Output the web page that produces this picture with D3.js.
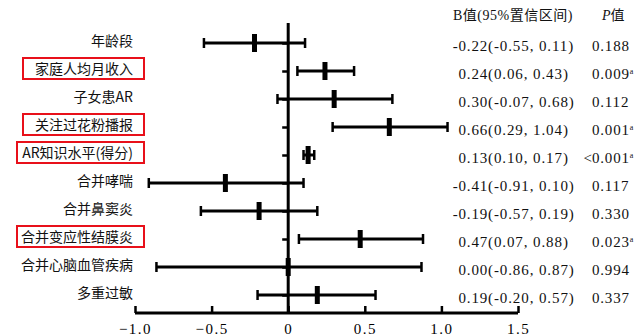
<!DOCTYPE html>
<html><head><meta charset="utf-8">
<script src="https://cdn.jsdelivr.net/npm/d3@7"></script>
<style>
html,body{margin:0;padding:0;background:#fff;}
svg{display:block;}
</style>
</head><body>
<svg id="chart" width="643" height="336"></svg>
<script>
const categories = ["年龄段","家庭人均月收入","子女患AR","关注过花粉播报","AR知识水平(得分)","合并哮喘","合并鼻窦炎","合并变应性结膜炎","合并心脑血管疾病","多重过敏"];
const bValues = [-0.22, 0.24, 0.30, 0.66, 0.13, -0.41, -0.19, 0.47, 0.00, 0.19];
const ciLow  = [-0.55, 0.06, -0.07, 0.29, 0.10, -0.91, -0.57, 0.07, -0.86, -0.20];
const ciHigh = [0.11, 0.43, 0.68, 1.04, 0.17, 0.10, 0.19, 0.88, 0.87, 0.57];
const pValues = ["0.188","0.009","0.112","0.001","0.001","0.117","0.330","0.023","0.994","0.337"];
const pPrefix = ["","","","","<","","","","",""];
const pSig = [false,true,false,true,true,false,false,true,false,false];
const highlighted = [false,true,false,true,true,false,false,true,false,false];
const xTicks = [-1.0,-0.5,0,0.5,1.0,1.5];
const xTickLabels = ["\u22121.0","\u22120.5","0","0.5","1.0","1.5"];
const headerB = "B值(95%置信区间)";
const headerP = "值";

const svg = d3.select("#chart");
const cjk = "'Noto Sans CJK SC', sans-serif";
const num = "'Liberation Serif', 'Noto Sans CJK SC', serif";
const fmt = v => (v < 0 ? "-" : "") + Math.abs(v).toFixed(2);

const x = d3.scaleLinear().domain([-1, 1.5]).range([135, 518]);
const y = d3.scalePoint().domain(categories).range([43, 295]);
const axisY = 313;

// x axis
const xAxis = d3.axisBottom(x).tickValues(xTicks).tickSize(-7).tickPadding(16)
  .tickFormat((d,i) => xTickLabels[i]);
const gx = svg.append("g").attr("transform", `translate(0,${axisY})`).call(xAxis);
gx.select(".domain").attr("stroke","#000").attr("stroke-width",3).attr("d", `M${x(-1)},0H${x(1.5)}`);
gx.selectAll(".tick line").attr("stroke","#000").attr("stroke-width",2.5);
gx.selectAll(".tick text").attr("font-family", num).attr("font-size", 15).attr("fill","#000")
  .attr("letter-spacing", 1.5).attr("dy","0.3em");

// zero line
svg.append("line").attr("x1", x(0)).attr("x2", x(0)).attr("y1", 23).attr("y2", axisY)
  .attr("stroke","#000").attr("stroke-width",3);

// y ticks (to the left of zero line)
const yAxis = d3.axisLeft(y).tickSize(6).tickFormat("");
const gy = svg.append("g").attr("transform", `translate(${x(0)},0)`).call(yAxis);
gy.select(".domain").remove();
gy.selectAll(".tick line").attr("stroke","#000").attr("stroke-width",2.5);

// rows
const rows = svg.append("g").selectAll("g").data(categories).join("g")
  .attr("transform", d => `translate(0,${y(d)})`);

rows.append("line").attr("x1",(d,i)=>x(ciLow[i])).attr("x2",(d,i)=>x(ciHigh[i]))
  .attr("stroke","#000").attr("stroke-width",3);
rows.append("line").attr("x1",(d,i)=>x(ciLow[i])).attr("x2",(d,i)=>x(ciLow[i]))
  .attr("y1",-5).attr("y2",5).attr("stroke","#000").attr("stroke-width",2.5);
rows.append("line").attr("x1",(d,i)=>x(ciHigh[i])).attr("x2",(d,i)=>x(ciHigh[i]))
  .attr("y1",-5).attr("y2",5).attr("stroke","#000").attr("stroke-width",2.5);
rows.append("rect").attr("x",(d,i)=>x(bValues[i])-2.5).attr("y",-9).attr("width",5).attr("height",18)
  .attr("fill","#000");

// labels
const labels = rows.append("text").attr("x",133).attr("y",-2).attr("dy","0.35em")
  .attr("text-anchor","end").attr("font-family",cjk).attr("font-size",14).attr("fill","#111")
  .text(d=>d);

// red boxes
labels.each(function(d,i){
  if(!highlighted[i]) return;
  const bb = this.getBBox();
  d3.select(this.parentNode).insert("rect","text")
    .attr("x", Math.max(bb.x - 12, 17)).attr("y", -13)
    .attr("width", bb.x + bb.width + 11 - Math.max(bb.x - 12, 17)).attr("height", 21)
    .attr("fill","none").attr("stroke","#e8101a").attr("stroke-width",2);
});

// B value column
rows.append("text").attr("x",488).attr("y",3).attr("dy","0.35em").attr("text-anchor","end")
  .attr("font-family",num).attr("font-size",15).attr("letter-spacing",0.8).attr("fill","#111")
  .text((d,i)=>fmt(bValues[i]));
rows.append("text").attr("x",488).attr("y",3).attr("dy","0.35em").attr("text-anchor","start")
  .attr("font-family",num).attr("font-size",15).attr("letter-spacing",0.9).attr("fill","#111")
  .text((d,i)=>`(${fmt(ciLow[i])}, ${fmt(ciHigh[i])})`);

// P value column
rows.append("text").attr("x",592).attr("y",3).attr("dy","0.35em").attr("text-anchor","end")
  .attr("font-family",num).attr("font-size",15).attr("fill","#111")
  .text((d,i)=>pPrefix[i]);
const pt = rows.append("text").attr("x",592).attr("y",3).attr("dy","0.35em")
  .attr("font-family",num).attr("font-size",15).attr("letter-spacing",0.8).attr("fill","#111");
pt.append("tspan").text((d,i)=>pValues[i]);
pt.filter((d,i)=>pSig[i]).append("tspan").attr("font-size",8).attr("dy","-0.6em").text("a");

// headers
svg.append("text").attr("x",453).attr("y",15).attr("dy","0.35em").attr("font-family",num)
  .attr("font-size",14).attr("letter-spacing",0.5).attr("fill","#111").text(headerB);
const ph = svg.append("text").attr("x",602).attr("y",15).attr("dy","0.35em").attr("font-family",num)
  .attr("font-size",14).attr("fill","#111");
ph.append("tspan").attr("font-style","italic").text("P");
ph.append("tspan").text(headerP);
</script>
</body></html>
